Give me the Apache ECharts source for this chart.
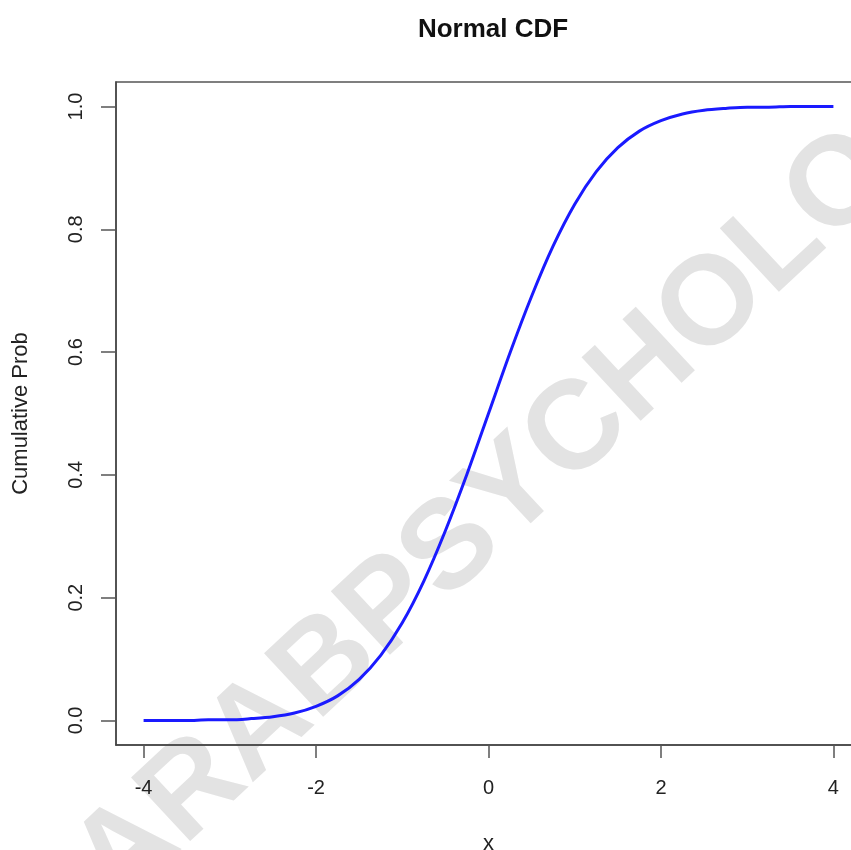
<!DOCTYPE html>
<html>
<head>
<meta charset="utf-8">
<script src="https://cdn.jsdelivr.net/npm/echarts@6/dist/echarts.min.js"></script>
<style>
  html, body { margin: 0; padding: 0; background: #fff; }
  #main { width: 851px; height: 850px; }
</style>
</head>
<body>
<div id="main"></div>
<script>
// values, step 0.25
var xs = [-4, -3.75, -3.5, -3.25, -3, -2.75, -2.5, -2.25, -2, -1.75, -1.5, -1.25, -1, -0.75, -0.5, -0.25,
          0, 0.25, 0.5, 0.75, 1, 1.25, 1.5, 1.75, 2, 2.25, 2.5, 2.75, 3, 3.25, 3.5, 3.75, 4];
var probs = [0.000, 0.000, 0.000, 0.001, 0.001, 0.003, 0.006, 0.012, 0.023, 0.040, 0.067, 0.106, 0.159, 0.227, 0.309, 0.401,
             0.500, 0.599, 0.691, 0.773, 0.841, 0.894, 0.933, 0.960, 0.977, 0.988, 0.994, 0.997, 0.999, 0.999, 1.000, 1.000, 1.000];
var xTicks = [-4, -2, 0, 2, 4];
var yTicks = [0, 0.2, 0.4, 0.6, 0.8, 1.0];

var font = 'Liberation Sans';
var points = [];
for (var i = 0; i < xs.length; i++) {
  points.push([xs[i], probs[i]]);
}

var chart = echarts.init(document.getElementById('main'));
var option = {
  animation: false,
  title: {
    text: 'Normal CDF',
    left: 488,
    top: 12,
    textAlign: 'center',
    textStyle: { fontFamily: font, fontSize: 26, fontWeight: 'bold', color: '#111' }
  },
  grid: {
    left: 116, top: 82, width: 745, height: 663,
    outerBoundsMode: 'none',
    containLabel: false,
    show: true, borderColor: '#555', borderWidth: 1.5, backgroundColor: 'transparent'
  },
  // watermark
  graphic: [{
    type: 'text',
    x: 552, y: 456,
    rotation: 43 * Math.PI / 180,
    silent: true,
    z: -10,
    style: {
      text: 'ARABPSYCHOLOGY',
      font: 'bold 126px "Liberation Sans"',
      fill: '#e3e3e3',
      textAlign: 'center',
      textVerticalAlign: 'middle'
    }
  }],
  xAxis: {
    type: 'value',
    min: -4.32, max: 4.32,
    name: 'x',
    nameLocation: 'middle',
    nameGap: 88,
    nameTextStyle: { fontFamily: font, fontSize: 22, color: '#222' },
    axisLine: { show: true, onZero: false, lineStyle: { color: '#444', width: 1.5 } },
    axisTick: { show: true, length: 13, customValues: xTicks, lineStyle: { color: '#555', width: 1.5 } },
    axisLabel: { customValues: xTicks, margin: 33, fontFamily: font, fontSize: 20, color: '#222' },
    splitLine: { show: false }
  },
  yAxis: {
    type: 'value',
    min: -0.04, max: 1.04,
    name: 'Cumulative Prob',
    nameLocation: 'middle',
    nameGap: 84,
    nameRotate: 90,
    nameTextStyle: { fontFamily: font, fontSize: 22, color: '#222' },
    axisLine: { show: true, onZero: false, lineStyle: { color: '#444', width: 1.5 } },
    axisTick: { show: true, length: 15, customValues: yTicks, lineStyle: { color: '#555', width: 1.5 } },
    axisLabel: {
      customValues: yTicks, rotate: 90, margin: 30,
      fontFamily: font, fontSize: 20, color: '#222',
      formatter: function (v) { return v.toFixed(1); }
    },
    splitLine: { show: false }
  },
  series: [{
    type: 'line',
    data: points,
    smooth: 0.3,
    showSymbol: false,
    z: 5,
    lineStyle: { color: '#1a1aff', width: 3 }
  }]
};
chart.setOption(option);
</script>
</body>
</html>
